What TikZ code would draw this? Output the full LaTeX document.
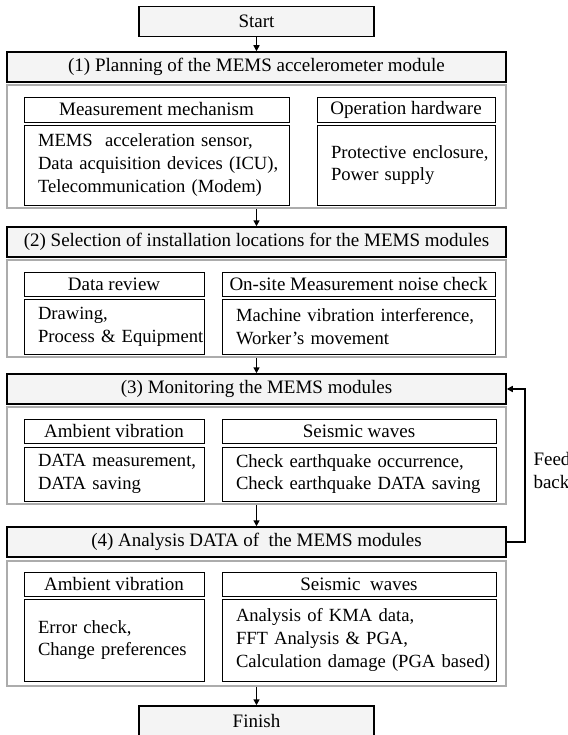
\documentclass[tikz,border=0pt]{standalone}
\usepackage{fontspec}
\setmainfont{Liberation Serif}
\usetikzlibrary{arrows.meta}

\begin{document}
\begin{tikzpicture}[x=1pt, y=-1pt,
    font=\fontsize{19}{22.5}\selectfont,
    capcal/.style={draw=black, line width=1.5pt, fill=gray!9, inner sep=0pt, minimum height=30pt},
    panell/.style={draw=gray!65, line width=1.6pt, inner sep=0pt},
    titol/.style={draw=black, line width=0.9pt, inner sep=0pt},
    cos/.style={draw=black, line width=0.9pt, inner sep=0pt, align=left, text width=#1,
        font=\fontsize{18.6}{22.8}\selectfont,
        execute at begin node={\leftskip=14pt\rightskip=-40pt plus 1fil\hyphenpenalty=10000}},
    fletxa/.style={line width=1.5pt, -{Triangle[length=6pt, width=6pt]}}]
    % MARGES DEL FULL
    \clip (0,0) rectangle (567,735);

    % INICI
    \node[capcal, minimum width=235pt] (inici) at (256.5,21.5) {Start};

    % ETAPA (1)
    \node[capcal, minimum width=499pt] (h1) at (256.5,67) {(1) Planning of the MEMS accelerometer module};
    \node[panell, minimum width=499pt, minimum height=123pt] (p1) at (256.5,146.5) {};
    \node[titol, minimum width=265pt, minimum height=25pt] (t1a) at (156.5,109.5) {Measurement mechanism};
    \node[cos=265pt, minimum height=80pt] (c1a) at (156.5,165) {MEMS~ acceleration sensor,\\Data acquisition devices (ICU),\\Telecommunication (Modem)};
    \node[titol, minimum width=178pt, minimum height=25pt] (t1b) at (406,109.5) {Operation hardware};
    \node[cos=178pt, minimum height=80pt] (c1b) at (406,165) {Protective enclosure,\\Power supply};

    % ETAPA (2)
    \node[capcal, minimum width=499pt] (h2) at (256.5,242) {(2) Selection of installation locations for the MEMS modules};
    \node[panell, minimum width=499pt, minimum height=97pt] (p2) at (256.5,308.5) {};
    \node[titol, minimum width=180pt, minimum height=24pt] (t2a) at (114,284) {Data review};
    \node[cos=180pt, minimum height=55pt] (c2a) at (114,326.5) {Drawing,\\Process \& Equipment};
    \node[titol, minimum width=273pt, minimum height=24pt] (t2b) at (358.5,284) {On-site Measurement noise check};
    \node[cos=273pt, minimum height=55pt] (c2b) at (358.5,326.5) {Machine vibration interference,\\Worker's movement};

    % ETAPA (3)
    \node[capcal, minimum width=499pt] (h3) at (256.5,389) {(3) Monitoring the MEMS modules};
    \node[panell, minimum width=499pt, minimum height=97pt] (p3) at (256.5,455.5) {};
    \node[titol, minimum width=180pt, minimum height=24pt] (t3a) at (114,431) {Ambient vibration};
    \node[cos=180pt, minimum height=54pt] (c3a) at (114,474) {DATA measurement,\\DATA saving};
    \node[titol, minimum width=274pt, minimum height=24pt] (t3b) at (359,431) {Seismic waves};
    \node[cos=274pt, minimum height=54pt] (c3b) at (359,474) {Check earthquake occurrence,\\Check earthquake DATA saving};

    % ETAPA (4)
    \node[capcal, minimum width=499pt] (h4) at (256.5,542) {(4) Analysis DATA of~ the MEMS modules};
    \node[panell, minimum width=499pt, minimum height=125pt] (p4) at (256.5,623.5) {};
    \node[titol, minimum width=180pt, minimum height=24pt] (t4a) at (114,584) {Ambient vibration};
    \node[cos=180pt, minimum height=82pt] (c4a) at (114,640) {Error check,\\Change preferences};
    \node[titol, minimum width=274pt, minimum height=24pt] (t4b) at (359,584) {Seismic~ waves};
    \node[cos=274pt, minimum height=82pt] (c4b) at (359,640) {Analysis of KMA data,\\FFT Analysis \& PGA,\\Calculation damage (PGA based)};

    % FINAL
    \node[capcal, minimum width=235pt] (final) at (256.5,721) {Finish};

    % FLETXES
    \foreach \a/\b in {inici/h1, p1/h2, p2/h3, p3/h4, p4/final} {
        \draw[fletxa] (\a) -- (\b);
    }

    % RETROALIMENTACIO
    \draw[fletxa] (h4.east) -- ++(18,0) |- (h3.east);
    \node[anchor=west, align=left] (retro) at (530,470.5) {Feed\\back};
\end{tikzpicture}
\end{document}
